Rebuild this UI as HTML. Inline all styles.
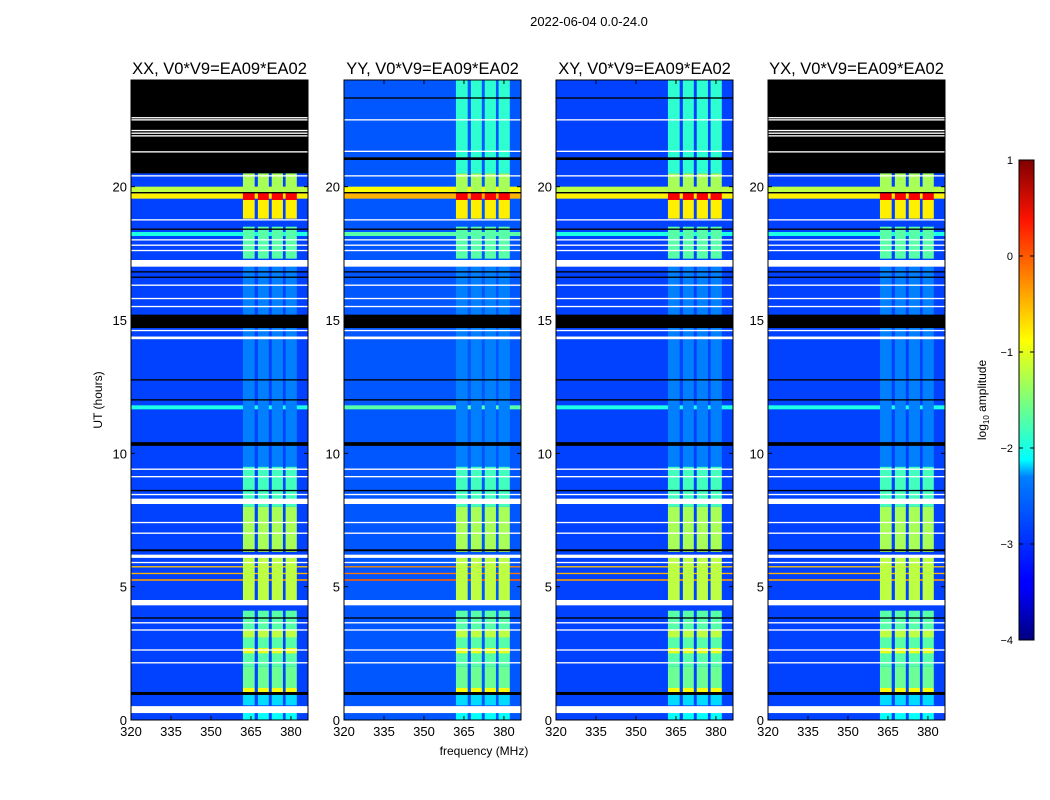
<!DOCTYPE html>
<html><head><meta charset="utf-8">
<style>
html,body{margin:0;padding:0;background:#fff;}
svg{display:block;font-family:"Liberation Sans","DejaVu Sans",sans-serif;}
</style></head>
<body>
<svg id="fig" width="1050" height="800" viewBox="0 0 1050 800" xmlns="http://www.w3.org/2000/svg">
<defs>
<linearGradient id="jet" x1="0" y1="1" x2="0" y2="0">
<stop offset="0" stop-color="#00007f"/><stop offset="0.11" stop-color="#0000ff"/>
<stop offset="0.125" stop-color="#0000ff"/><stop offset="0.34" stop-color="#0080ff"/>
<stop offset="0.375" stop-color="#00ffff" /><stop offset="0.5" stop-color="#7dff7a"/>
<stop offset="0.625" stop-color="#ffff00"/><stop offset="0.875" stop-color="#ff1300"/>
<stop offset="1" stop-color="#800000"/></linearGradient>
</defs>
<text x="589" y="26" font-size="13" text-anchor="middle">2022-06-04 0.0-24.0</text>
<g id="panels"></g>
<text x="484" y="755" font-size="12" text-anchor="middle">frequency (MHz)</text>
<text transform="translate(102,400) rotate(-90)" font-size="12" text-anchor="middle">UT (hours)</text>
<g>
<rect x="1019" y="160" width="15" height="480" fill="url(#jet)" stroke="#000" stroke-width="1"/>
<g id="cbticks"></g>
<text transform="translate(986,400) rotate(-90)" font-size="12" text-anchor="middle">log<tspan font-size="8" dy="3">10</tspan><tspan dy="-3"> amplitude</tspan></text>
</g>
</svg>
<script>
const titles = ["XX, V0*V9=EA09*EA02","YY, V0*V9=EA09*EA02","XY, V0*V9=EA09*EA02","YX, V0*V9=EA09*EA02"];
const xTicks = [320,335,350,365,380];
const yTicks = [0,5,10,15,20];
const cbTicks = [-4,-3,-2,-1,0,1];
const subBands = [[362,366.4],[367.6,371.7],[372.8,377],[378,382.2]];
const background = [-3.05,-2.95,-3.05,-3.05];
// [t0,t1,log amplitude] in the RFI sub-bands
const bandSegs = [[0,0.3,-2.1],[0.55,0.95,-2.3],[1.0,1.2,-0.9],[1.2,2.0,-1.6],[2.0,4.1,-1.7],[2.5,2.7,-1.0],[3.1,3.4,-1.2],[4.5,6.1,-1.2],[6.3,8.0,-1.3],[8.0,9.5,-1.8],[9.5,17.0,-2.75],[17.3,18.5,-1.7],[18.8,19.5,-0.8],[19.5,19.8,0.4],[19.8,20.5,-1.3],[20.5,24,-1.9]];
// full-width coloured rows
const colorRows = [[5.22,5.28,-0.4],[5.47,5.52,-0.5],[5.72,5.77,-0.6],[11.65,11.8,-2.0],[18.15,18.3,-2.0],[19.55,19.75,-0.8],[19.8,20.0,-1.2]];
const whiteRows = [[0.26,0.52],[2.12,2.17],[2.6,2.65],[3.35,3.4],[3.62,3.67],[4.3,4.5],[5.88,5.93],[6.08,6.2],[6.98,7.03],[7.38,7.43],[8.1,8.3],[8.43,8.48],[9.1,9.15],[9.38,9.43],[14.28,14.38],[14.58,14.63],[15.48,15.53],[15.78,15.83],[16.28,16.33],[17.0,17.25],[17.58,17.63],[17.78,17.83],[17.98,18.03],[18.73,18.78],[20.38,20.43]];
const blackRows = [[0.94,1.05],[3.8,3.85],[6.33,6.4],[8.58,8.63],[10.28,10.42],[11.98,12.03],[12.73,12.78],[14.7,15.2],[16.58,16.63],[16.78,16.83],[18.38,18.43],[19.75,19.8]];
const flaggedTop = [true,false,false,true];
const topWhiteLines = [[21.28,21.33],[21.88,21.93],[21.98,22.03],[22.08,22.13],[22.48,22.53],[22.56,22.61]];

const panelX = [131,344,556,768], PW=177, PT=80, PB=720;
const NS="http://www.w3.org/2000/svg";
function jet(v){let t=(v+4)/5;t=Math.max(0,Math.min(1,t));
 const r=Math.max(0,Math.min(1,1.5-Math.abs(4*t-3))),g=Math.max(0,Math.min(1,1.5-Math.abs(4*t-2))),b=Math.max(0,Math.min(1,1.5-Math.abs(4*t-1)));
 return `rgb(${Math.round(r*255)},${Math.round(g*255)},${Math.round(b*255)})`;}
function el(tag,attrs,parent){const e=document.createElementNS(NS,tag);for(const k in attrs)e.setAttribute(k,attrs[k]);parent.appendChild(e);return e;}
const root=document.getElementById('panels');
titles.forEach((title,p)=>{
 const x0=panelX[p];
 const xs=f=>x0+(f-320)/66.4*PW;
 const ys=h=>PB-h/24*(PB-PT);
 const g=el('g',{},root);
 
 
 const bg=el('rect',{x:x0,y:PT,width:PW,height:PB-PT,fill:jet(background[p])},g);
 
 
 colorRows.forEach(r=>{const e=el('rect',{x:x0,y:ys(r[1]),width:PW,height:ys(r[0])-ys(r[1]),fill:jet(r[2]+(p===1?0.3:0))},g);
  
  });
 bandSegs.forEach(s=>subBands.forEach(b=>{const e=el('rect',{x:xs(b[0]),y:ys(s[1]),width:xs(b[1])-xs(b[0]),height:ys(s[0])-ys(s[1]),fill:jet(s[2])},g);
  
  }));
 if(flaggedTop[p]){const e=el('rect',{x:x0,y:PT,width:PW,height:ys(20.5)-PT,fill:'#000'},g);
  
  
  topWhiteLines.forEach(r=>{const w=el('rect',{x:x0,y:ys(r[1]),width:PW,height:ys(r[0])-ys(r[1]),fill:'#fff'},g);
   
   });}
 else { [[22.48,22.53],[21.3,21.35]].forEach(r=>{const w=el('rect',{x:x0,y:ys(r[1]),width:PW,height:ys(r[0])-ys(r[1]),fill:'#fff'},g);
   
   });
   [[21.0,21.1],[23.3,23.35]].forEach(r=>{const w=el('rect',{x:x0,y:ys(r[1]),width:PW,height:ys(r[0])-ys(r[1]),fill:'#000'},g);
   
   });}
 whiteRows.forEach(r=>{const e=el('rect',{x:x0,y:ys(r[1]),width:PW,height:Math.max(1,ys(r[0])-ys(r[1])),fill:'#fff'},g);
  
  });
 blackRows.forEach(r=>{const e=el('rect',{x:x0,y:ys(r[1]),width:PW,height:Math.max(1,ys(r[0])-ys(r[1])),fill:'#000'},g);
  
  });
 const fr=el('rect',{x:x0,y:PT,width:PW,height:PB-PT,fill:'none',stroke:'#000','stroke-width':1},g);
 
 
 const t=el('text',{x:x0+PW/2,y:74,'font-size':16.5,'text-anchor':'middle'},g);t.textContent=title;
 
 
 xTicks.forEach(v=>{const x=xs(v);el('line',{x1:x,x2:x,y1:PB,y2:PB-4,stroke:'#000'},g);el('line',{x1:x,x2:x,y1:PT,y2:PT+4,stroke:'#000'},g);
  const l=el('text',{x:x,y:PB+16,'font-size':13,'text-anchor':'middle'},g);l.textContent=v;
  
  });
 yTicks.forEach(v=>{const y=ys(v);el('line',{x1:x0,x2:x0+4,y1:y,y2:y,stroke:'#000'},g);el('line',{x1:x0+PW,x2:x0+PW-4,y1:y,y2:y,stroke:'#000'},g);
  const l=el('text',{x:x0-4,y:y+5,'font-size':13,'text-anchor':'end'},g);l.textContent=v;
  
  });
});
const cb=document.getElementById('cbticks');
cbTicks.forEach(v=>{const y=640-(v+4)*96;
 el('line',{x1:1019,x2:1023,y1:y,y2:y,stroke:'#000'},cb);el('line',{x1:1034,x2:1030,y1:y,y2:y,stroke:'#000'},cb);
 const l=el('text',{x:1013,y:y+4,'font-size':11,'text-anchor':'end'},cb);l.textContent=(v<0?'\u2212'+(-v):v);
 
 });
</script>
</body></html>
